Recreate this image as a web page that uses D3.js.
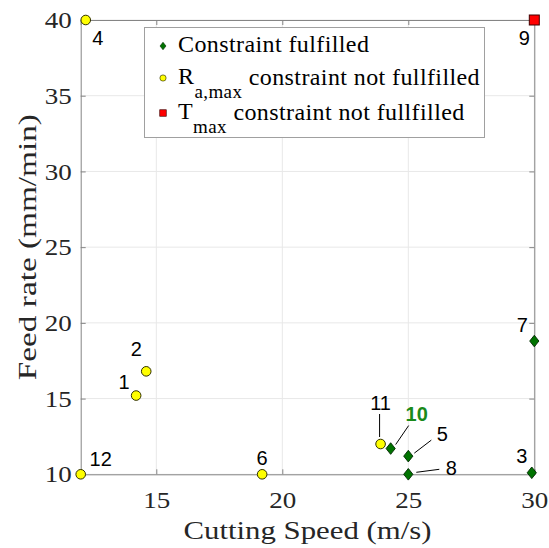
<!DOCTYPE html>
<html><head><meta charset="utf-8">
<script src="https://cdn.jsdelivr.net/npm/d3@7"></script>
<style>body{margin:0;background:#fff}</style>
</head><body>
<svg id="c" width="549" height="548"></svg>
<script>
const ids = ["1","2","3","4","5","6","7","8","9","10","11","12"];
const speeds = [14.2,14.6,29.9,12.2,25.0,19.2,30.0,25.0,30.0,24.3,23.9,12.0];
const feeds = [15.2,16.8,10.1,40.0,11.2,10.0,18.8,10.0,40.0,11.7,12.0,10.0];
const status = ["R","R","ok","R","ok","R","ok","ok","T","ok","R","R"];
// label offsets (px) and leader lines
const labelDx = [-12,-10,-10,12,34,0,-12,43,-10,26,0,20];
const labelDy = [-14,-22,-17,18,-22,-16,-16,-6,18,-35,-41,-15];
const leader = [false,false,false,false,true,false,false,true,false,true,true,false];
const xTicks = [15,20,25,30];
const yTicks = [10,15,20,25,30,35,40];
const legendLabels = [["Constraint fulfilled",""],["R","a,max"," constraint not fullfilled"],["T","max"," constraint not fullfilled"]];

const svg = d3.select("#c");
const x = d3.scaleLinear().domain([12,30]).range([80.7,534.3]);
const y = d3.scaleLinear().domain([10,40]).range([474.3,20]);
const serif = "'Liberation Serif', serif";
const sans = "'Liberation Sans', Arial, sans-serif";

// grid
svg.append("g").selectAll("line.gx").data(xTicks).join("line")
  .attr("x1",d=>x(d)).attr("x2",d=>x(d)).attr("y1",y(10)).attr("y2",y(40))
  .attr("stroke","#e8e8e8").attr("stroke-width",1);
svg.append("g").selectAll("line.gy").data(yTicks).join("line")
  .attr("x1",x(12)).attr("x2",x(30)).attr("y1",d=>y(d)).attr("y2",d=>y(d))
  .attr("stroke","#e8e8e8").attr("stroke-width",1);

// axes
const xAxis = svg.append("g").attr("transform",`translate(0,${y(10)})`)
  .call(d3.axisBottom(x).tickValues(xTicks).tickSize(-5).tickPadding(34).tickFormat(d3.format("d")));
const yAxis = svg.append("g").attr("transform",`translate(${x(12)},0)`)
  .call(d3.axisLeft(y).tickValues(yTicks).tickSize(-5).tickPadding(9).tickFormat(d3.format("d")));
const xAxisT = svg.append("g").attr("transform",`translate(0,${y(40)})`)
  .call(d3.axisTop(x).tickValues(xTicks).tickSize(-5).tickFormat(""));
const yAxisR = svg.append("g").attr("transform",`translate(${x(30)},0)`)
  .call(d3.axisRight(y).tickValues(yTicks).tickSize(-5).tickFormat(""));
[xAxis,yAxis,xAxisT,yAxisR].forEach(g=>{
  g.select(".domain").attr("stroke","#858585");
  g.selectAll(".tick line").attr("stroke","#858585");
  g.selectAll("text").attr("font-family",serif).attr("font-size",24).attr("fill","#262626")
    .attr("textLength",27).attr("lengthAdjust","spacingAndGlyphs");
});
xAxis.selectAll("text").attr("dy","0");

svg.append("text").attr("x",(x(12)+x(30))/2).attr("y",539).attr("text-anchor","middle")
  .attr("font-family",serif).attr("font-size",25).attr("fill","#262626")
  .attr("textLength",248).attr("lengthAdjust","spacingAndGlyphs").text("Cutting Speed (m/s)");
svg.append("text").attr("transform",`translate(36,${(y(10)+y(40))/2}) rotate(-90)`).attr("text-anchor","middle")
  .attr("font-family",serif).attr("font-size",25).attr("fill","#262626")
  .attr("textLength",266).attr("lengthAdjust","spacingAndGlyphs").text("Feed rate (mm/min)");

// markers
const data = ids.map((id,i)=>({id,sx:speeds[i],f:feeds[i],s:status[i],dx:labelDx[i],dy:labelDy[i],lead:leader[i]}));
const diamond = "M0,-5.8L4.6,0L0,5.8L-4.6,0Z";
function drawMarker(g,s){
  if(s==="ok") g.append("path").attr("d",diamond).attr("fill","#007300").attr("stroke","#002800").attr("stroke-width",0.9);
  else if(s==="R") g.append("circle").attr("r",4.8).attr("fill","#ffff00").attr("stroke","#303000").attr("stroke-width",1);
  else g.append("rect").attr("x",-5).attr("y",-5).attr("width",10).attr("height",10).attr("fill","#ff0000").attr("stroke","#400000").attr("stroke-width",1);
}
// leader lines
const lg = svg.append("g");
data.filter(d=>d.lead).forEach(d=>{
  const px=x(d.sx), py=y(d.f);
  let x1,y1,x2,y2;
  if(d.id==="8"){x1=px+8;y1=py-2;x2=px+d.dx-12;y2=py+d.dy+1;}
  else if(d.id==="5"){x1=px+6;y1=py-3;x2=px+d.dx-11;y2=py+d.dy+6;}
  else if(d.id==="10"){x1=px+5;y1=py-4;x2=px+d.dx-8;y2=py+d.dy+12;}
  else {x1=px-1;y1=py-7;x2=px-1;y2=py+d.dy+11;}
  lg.append("line").attr("x1",x1).attr("y1",y1).attr("x2",x2).attr("y2",y2).attr("stroke","#000").attr("stroke-width",1);
});
data.forEach(d=>{
  const g = svg.append("g").attr("transform",`translate(${x(d.sx)},${y(d.f)})`);
  drawMarker(g,d.s);
});
svg.append("g").selectAll("text").data(data).join("text")
  .attr("x",d=>x(d.sx)+d.dx).attr("y",d=>y(d.f)+d.dy).attr("dy","0.35em").attr("text-anchor","middle")
  .attr("font-family",sans).attr("font-size",20)
  .attr("font-weight",d=>d.id==="10"?"bold":"normal")
  .attr("fill",d=>d.id==="10"?"#1a8a1a":"#000")
  .text(d=>d.id);

// legend
const leg = svg.append("g");
leg.append("rect").attr("x",144.5).attr("y",27.5).attr("width",340).attr("height",110)
  .attr("fill","#fff").attr("stroke","#a0a0a0").attr("stroke-width",1);
const legStat = ["ok","R","T"];
const legY = [44,76,111];
legStat.forEach((s,i)=>{
  const g = leg.append("g").attr("transform",`translate(163,${legY[i]+2}) scale(0.65)`);
  drawMarker(g,s);
  const t = leg.append("text").attr("x",178).attr("y",legY[i]).attr("dy","0.35em")
    .attr("font-family",serif).attr("font-size",24).attr("letter-spacing",0.4).attr("fill","#000");
  const L = legendLabels[i];
  if(L.length===2) t.text(L[0]);
  else {
    t.append("tspan").text(L[0]);
    t.append("tspan").attr("font-size",19).attr("dy","0.7em").text(L[1]);
    t.append("tspan").attr("dy","-0.55em").text(L[2]);
  }
});
</script>
</body></html>
